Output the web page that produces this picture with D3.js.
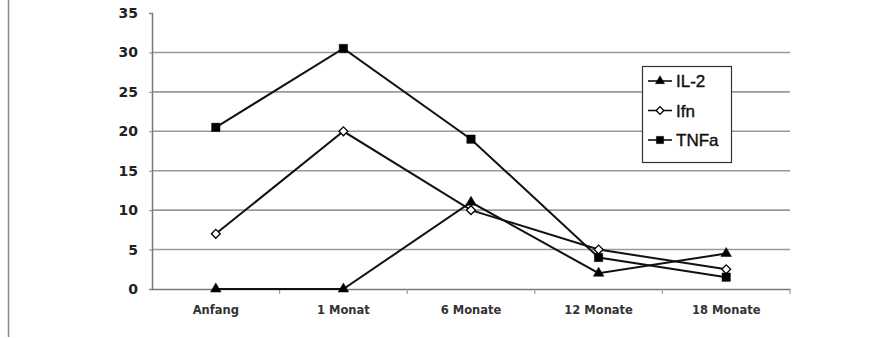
<!DOCTYPE html>
<html>
<head>
<meta charset="utf-8">
<script src="https://cdn.jsdelivr.net/npm/d3@7"></script>
<style>
  html, body { margin: 0; padding: 0; background: #fff; }
  svg { display: block; }
</style>
</head>
<body>
<svg id="chart" width="896" height="338"></svg>
<script>
// Zeitpunkte
const categories = ["Anfang", "1 Monat", "6 Monate", "12 Monate", "18 Monate"];
// Zytokinwerte je Zeitpunkt
const il2 = [0, 0, 11, 2, 4.5];
const ifn = [7, 20, 10, 5, 2.5];
const tnfa = [20.5, 30.5, 19, 4, 1.5];
const yTicks = [0, 5, 10, 15, 20, 25, 30, 35];
const seriesNames = ["IL-2", "Ifn", "TNFa"];

const series = [
  { name: seriesNames[0], values: il2, marker: "triangle" },
  { name: seriesNames[1], values: ifn, marker: "diamond" },
  { name: seriesNames[2], values: tnfa, marker: "square" }
];

const AXIS_FONT = "'DejaVu Sans', Arial, sans-serif";
const LEGEND_FONT = "'Liberation Sans', Arial, sans-serif";
const svg = d3.select("#chart");
const plot = { left: 152, right: 790, top: 13, bottom: 289 };

// page frame line on the left
svg.append("line")
  .attr("x1", 8.5).attr("x2", 8.5).attr("y1", 0).attr("y2", 337)
  .attr("stroke", "#8a8a8a").attr("stroke-width", 1.5);

const x = d3.scaleBand().domain(categories).range([plot.left, plot.right]);
const y = d3.scaleLinear().domain([0, 35]).range([plot.bottom, plot.top]);

// horizontal gridlines
svg.append("g").selectAll("line")
  .data(yTicks.filter(t => t > 0 && t < 35))
  .join("line")
  .attr("x1", plot.left).attr("x2", plot.right)
  .attr("y1", d => y(d)).attr("y2", d => y(d))
  .attr("stroke", "#9a9a9a").attr("stroke-width", 1.6);

// y axis
const yAxis = svg.append("g")
  .attr("transform", `translate(${plot.left},0)`)
  .call(d3.axisLeft(y).tickValues(yTicks).tickSize(3).tickPadding(11).tickFormat(d3.format("d")));
yAxis.select(".domain").attr("stroke", "#777").attr("stroke-width", 1.5);
yAxis.selectAll(".tick line").attr("stroke", "#888");
yAxis.selectAll("text").attr("font-size", 14).attr("fill", "#222")
  .attr("font-family", AXIS_FONT).attr("font-weight", "bold");

// x axis
const xAxis = svg.append("g")
  .attr("transform", `translate(0,${plot.bottom})`)
  .call(d3.axisBottom(x).tickSize(0).tickPadding(17));
xAxis.select(".domain").attr("stroke", "#777").attr("stroke-width", 1.6);
xAxis.selectAll("text").attr("font-size", 11.5).attr("fill", "#333")
  .attr("font-family", AXIS_FONT).attr("font-weight", "bold");
// tick marks at the category boundaries
const boundaries = categories.slice(1).map(c => x(c)).concat([plot.right]);
xAxis.append("g").selectAll("line")
  .data(boundaries)
  .join("line")
  .attr("x1", d => d).attr("x2", d => d)
  .attr("y1", 0).attr("y2", 5)
  .attr("stroke", "#999").attr("stroke-width", 1.2);

const cx = c => x(c) + x.bandwidth() / 2;
const line = d3.line().x((d, i) => cx(categories[i])).y(d => y(d));

function drawMarker(g, kind, px, py, scale) {
  const sizes = { triangle: 48, diamond: 50, square: 70 };
  const types = { triangle: d3.symbolTriangle, diamond: d3.symbolDiamond2, square: d3.symbolSquare };
  g.append("path")
    .attr("d", d3.symbol().type(types[kind]).size(sizes[kind] * scale)())
    .attr("transform", `translate(${px},${py})`)
    .attr("fill", kind === "diamond" ? "#fff" : "#000")
    .attr("stroke", "#000")
    .attr("stroke-width", kind === "diamond" ? 1.3 : 0.5);
}

series.forEach(s => {
  svg.append("path")
    .datum(s.values)
    .attr("d", line)
    .attr("fill", "none")
    .attr("stroke", "#111")
    .attr("stroke-width", 2);
});
series.forEach(s => {
  const g = svg.append("g");
  s.values.forEach((v, i) => drawMarker(g, s.marker, cx(categories[i]), y(v), 1));
});

// legend
const legend = svg.append("g");
legend.append("rect")
  .attr("x", 642.5).attr("y", 66.5).attr("width", 89).attr("height", 96)
  .attr("fill", "#fff").attr("stroke", "#333").attr("stroke-width", 1.2);
series.forEach((s, i) => {
  const ly = 81 + i * 29.5;
  legend.append("line")
    .attr("x1", 648).attr("x2", 672).attr("y1", ly).attr("y2", ly)
    .attr("stroke", "#111").attr("stroke-width", 1.6);
  drawMarker(legend, s.marker, 660, ly, 0.75);
  legend.append("text")
    .attr("x", 676).attr("y", ly + 6)
    .attr("font-family", LEGEND_FONT).attr("font-size", 17).attr("fill", "#111")
    .attr("stroke", "#111").attr("stroke-width", 0.4)
    .text(s.name);
});
</script>
</body>
</html>
